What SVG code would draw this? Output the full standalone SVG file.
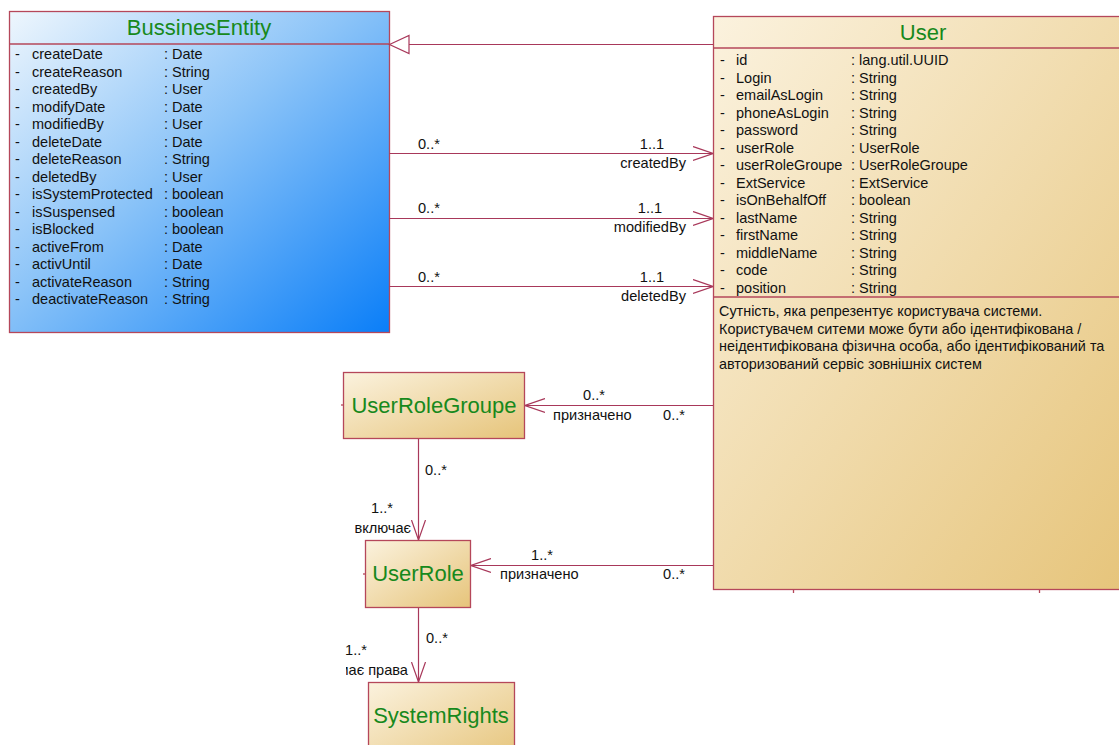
<svg xmlns="http://www.w3.org/2000/svg" width="1119" height="745" viewBox="0 0 1119 745">
  <defs>
    <linearGradient id="gBlue" x1="0" y1="0" x2="1" y2="1">
      <stop offset="0" stop-color="#eef6fd"/>
      <stop offset="0.45" stop-color="#8cc4f8"/>
      <stop offset="1" stop-color="#0a7ef8"/>
    </linearGradient>
    <linearGradient id="gTan" x1="0" y1="0" x2="1" y2="1">
      <stop offset="0" stop-color="#fbf2de"/>
      <stop offset="1" stop-color="#e6c47a"/>
    </linearGradient>
    <marker id="open" viewBox="0 0 20 16" refX="20" refY="8" markerWidth="20" markerHeight="16" markerUnits="userSpaceOnUse" orient="auto">
      <path d="M0,1 L20,8 L0,15" fill="none" stroke="#a8385a" stroke-width="1.2"/>
    </marker>
    <clipPath id="clipLeft">
      <rect x="346" y="600" width="200" height="80"/>
    </clipPath>
  </defs>
  <style>
    .box { stroke: #b5475a; stroke-width: 1.3; }
    .sep { stroke: #b5475a; stroke-width: 1.3; fill: none; }
    .title { font-family: "Liberation Sans", Arial, sans-serif; font-size: 22px; fill: #17891c; text-anchor: middle; }
    .attr { font-family: "Liberation Sans", Arial, sans-serif; font-size: 14.5px; fill: #111; }
    .desc { font-family: "Liberation Sans", Arial, sans-serif; font-size: 14.4px; fill: #111; }
    .lbl { font-family: "Liberation Sans", Arial, sans-serif; font-size: 14.6px; fill: #111; }
    .end { text-anchor: end; }
    .mid { text-anchor: middle; }
    .conn { stroke: #a8385a; stroke-width: 1.2; fill: none; }
  </style>

  <!-- BussinesEntity class -->
  <g id="BussinesEntity">
    <rect class="box" x="9.5" y="11.5" width="380" height="321" fill="url(#gBlue)"/>
    <line class="sep" x1="9.5" y1="44" x2="389.5" y2="44"/>
    <text class="title" x="199" y="35">BussinesEntity</text>
    <g class="attr">
      <text x="15" y="59">-</text><text x="32" y="59">createDate</text><text x="164" y="59">: Date</text>
      <text x="15" y="76.5">-</text><text x="32" y="76.5">createReason</text><text x="164" y="76.5">: String</text>
      <text x="15" y="94">-</text><text x="32" y="94">createdBy</text><text x="164" y="94">: User</text>
      <text x="15" y="111.5">-</text><text x="32" y="111.5">modifyDate</text><text x="164" y="111.5">: Date</text>
      <text x="15" y="129">-</text><text x="32" y="129">modifiedBy</text><text x="164" y="129">: User</text>
      <text x="15" y="146.5">-</text><text x="32" y="146.5">deleteDate</text><text x="164" y="146.5">: Date</text>
      <text x="15" y="164">-</text><text x="32" y="164">deleteReason</text><text x="164" y="164">: String</text>
      <text x="15" y="181.5">-</text><text x="32" y="181.5">deletedBy</text><text x="164" y="181.5">: User</text>
      <text x="15" y="199">-</text><text x="32" y="199">isSystemProtected</text><text x="164" y="199">: boolean</text>
      <text x="15" y="216.5">-</text><text x="32" y="216.5">isSuspensed</text><text x="164" y="216.5">: boolean</text>
      <text x="15" y="234">-</text><text x="32" y="234">isBlocked</text><text x="164" y="234">: boolean</text>
      <text x="15" y="251.5">-</text><text x="32" y="251.5">activeFrom</text><text x="164" y="251.5">: Date</text>
      <text x="15" y="269">-</text><text x="32" y="269">activUntil</text><text x="164" y="269">: Date</text>
      <text x="15" y="286.5">-</text><text x="32" y="286.5">activateReason</text><text x="164" y="286.5">: String</text>
      <text x="15" y="304">-</text><text x="32" y="304">deactivateReason</text><text x="164" y="304">: String</text>
    </g>
  </g>

  <!-- User class -->
  <g id="User">
    <rect class="box" x="713.5" y="16.5" width="420" height="573" fill="url(#gTan)"/>
    <line class="sep" x1="713.5" y1="48" x2="1133" y2="48"/>
    <line class="sep" x1="713.5" y1="297" x2="1133" y2="297"/>
    <text class="title" x="923" y="40">User</text>
    <g class="attr">
      <text x="720" y="65">-</text><text x="736" y="65">id</text><text x="851" y="65">: lang.util.UUID</text>
      <text x="720" y="82.5">-</text><text x="736" y="82.5">Login</text><text x="851" y="82.5">: String</text>
      <text x="720" y="100">-</text><text x="736" y="100">emailAsLogin</text><text x="851" y="100">: String</text>
      <text x="720" y="117.5">-</text><text x="736" y="117.5">phoneAsLogin</text><text x="851" y="117.5">: String</text>
      <text x="720" y="135">-</text><text x="736" y="135">password</text><text x="851" y="135">: String</text>
      <text x="720" y="152.5">-</text><text x="736" y="152.5">userRole</text><text x="851" y="152.5">: UserRole</text>
      <text x="720" y="170">-</text><text x="736" y="170">userRoleGroupe</text><text x="851" y="170">: UserRoleGroupe</text>
      <text x="720" y="187.5">-</text><text x="736" y="187.5">ExtService</text><text x="851" y="187.5">: ExtService</text>
      <text x="720" y="205">-</text><text x="736" y="205">isOnBehalfOff</text><text x="851" y="205">: boolean</text>
      <text x="720" y="222.5">-</text><text x="736" y="222.5">lastName</text><text x="851" y="222.5">: String</text>
      <text x="720" y="240">-</text><text x="736" y="240">firstName</text><text x="851" y="240">: String</text>
      <text x="720" y="257.5">-</text><text x="736" y="257.5">middleName</text><text x="851" y="257.5">: String</text>
      <text x="720" y="275">-</text><text x="736" y="275">code</text><text x="851" y="275">: String</text>
      <text x="720" y="292.5">-</text><text x="736" y="292.5">position</text><text x="851" y="292.5">: String</text>
    </g>
    <g class="desc">
      <text x="719" y="316">Сутність, яка репрезентує користувача системи.</text>
      <text x="719" y="333.5">Користувачем ситеми може бути або ідентифікована /</text>
      <text x="719" y="351">неідентифікована фізична особа, або ідентифікований та</text>
      <text x="719" y="368.5">авторизований сервіс зовнішніх систем</text>
    </g>
    <line class="sep" x1="793.5" y1="590" x2="793.5" y2="593"/>
    <line class="sep" x1="1039.5" y1="590" x2="1039.5" y2="593"/>
  </g>

  <!-- UserRoleGroupe class -->
  <g id="UserRoleGroupe">
    <rect class="box" x="343.5" y="372.5" width="181" height="66" fill="url(#gTan)"/>
    <line class="sep" x1="341" y1="405" x2="343.5" y2="405"/>
    <text class="title" x="434" y="413">UserRoleGroupe</text>
  </g>

  <!-- UserRole class -->
  <g id="UserRole">
    <rect class="box" x="365.5" y="540.5" width="105" height="67" fill="url(#gTan)"/>
    <line class="sep" x1="363" y1="574" x2="365.5" y2="574"/>
    <text class="title" x="418" y="581">UserRole</text>
  </g>

  <!-- SystemRights class -->
  <g id="SystemRights">
    <rect class="box" x="368.5" y="682.5" width="146" height="80" fill="url(#gTan)"/>
    <text class="title" x="441" y="723">SystemRights</text>
  </g>

  <!-- Connectors -->
  <g id="connectors">
    <!-- generalization User -> BussinesEntity -->
    <line class="conn" x1="713" y1="44.5" x2="409" y2="44.5"/>
    <path class="conn" d="M389.5,44.5 L409,35.5 L409,53.5 Z" fill="#fff"/>

    <!-- createdBy -->
    <line class="conn" x1="389.5" y1="153.5" x2="713" y2="153.5" marker-end="url(#open)"/>
    <!-- modifiedBy -->
    <line class="conn" x1="389.5" y1="218.5" x2="713" y2="218.5" marker-end="url(#open)"/>
    <!-- deletedBy -->
    <line class="conn" x1="389.5" y1="286.5" x2="713" y2="286.5" marker-end="url(#open)"/>

    <!-- User -> UserRoleGroupe -->
    <line class="conn" x1="713" y1="405.5" x2="525" y2="405.5" marker-end="url(#open)"/>
    <!-- UserRoleGroupe -> UserRole -->
    <line class="conn" x1="418.5" y1="439" x2="418.5" y2="540" marker-end="url(#open)"/>
    <!-- User -> UserRole -->
    <line class="conn" x1="713" y1="565.5" x2="471" y2="565.5" marker-end="url(#open)"/>
    <!-- UserRole -> SystemRights -->
    <line class="conn" x1="418.5" y1="608" x2="418.5" y2="682" marker-end="url(#open)"/>

    <g class="lbl">
      <text x="418" y="149">0..*</text>
      <text class="mid" x="652" y="149">1..1</text>
      <text class="end" x="686" y="168">createdBy</text>

      <text x="418" y="213">0..*</text>
      <text class="mid" x="650" y="213">1..1</text>
      <text class="end" x="686" y="232">modifiedBy</text>

      <text x="418" y="282">0..*</text>
      <text class="mid" x="652" y="282">1..1</text>
      <text class="end" x="686" y="301">deletedBy</text>

      <text class="mid" x="594" y="400">0..*</text>
      <text x="553" y="420">призначено</text>
      <text class="mid" x="674" y="420">0..*</text>

      <text x="425" y="475">0..*</text>
      <text class="end" x="393" y="513">1..*</text>
      <text class="end" x="411" y="533">включає</text>

      <text class="mid" x="542" y="560">1..*</text>
      <text x="500" y="579">призначено</text>
      <text class="mid" x="674" y="579">0..*</text>

      <text x="426" y="643">0..*</text>
      <text class="end" x="367" y="655">1..*</text>
      <text class="end" x="408" y="675" clip-path="url(#clipLeft)">має права</text>
    </g>
  </g>
</svg>
